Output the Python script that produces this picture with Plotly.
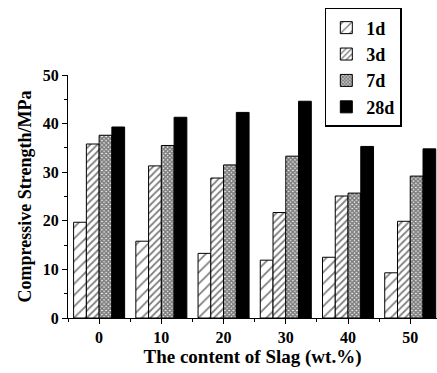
import plotly.graph_objects as go

categories = ["0", "10", "20", "30", "40", "50"]
s1d = [19.7, 15.8, 13.3, 11.9, 12.5, 9.3]
s3d = [35.8, 31.3, 28.8, 21.7, 25.1, 19.9]
s7d = [37.6, 35.5, 31.5, 33.3, 25.7, 29.2]
s28d = [39.3, 41.3, 42.3, 44.6, 35.3, 34.8]
series_names = ["1d", "3d", "7d", "28d"]

FONT = "'Liberation Serif', 'Times New Roman', Times, serif"
xpos = list(range(len(categories)))

styles = [
    dict(shape="/", size=8, solidity=0.22, fgcolor="black", bgcolor="white", fillmode="overlay"),
    dict(shape="/", size=5, solidity=0.35, fgcolor="black", bgcolor="white", fillmode="overlay"),
    dict(shape="x", size=3, solidity=0.8, fgcolor="black", bgcolor="white", fillmode="overlay"),
    None,
]

fig = go.Figure()
for name, vals, pat in zip(series_names, [s1d, s3d, s7d, s28d], styles):
    marker = dict(color="white" if pat else "black", line=dict(color="black", width=1))
    if pat:
        marker["pattern"] = pat
    fig.add_trace(go.Bar(x=xpos, y=vals, name=name, marker=marker))

fig.update_layout(
    width=437, height=373,
    margin=dict(l=68, r=0, t=75, b=55),
    paper_bgcolor="white", plot_bgcolor="white",
    barmode="group", bargap=0.18, bargroupgap=0,
    font=dict(family=FONT, size=15, color="black", weight="bold"),
    showlegend=True,
    legend=dict(
        x=0.696, y=1.276, xanchor="left", yanchor="top",
        bordercolor="black", borderwidth=1.5, bgcolor="white",
        font=dict(family=FONT, size=18, color="black", weight="bold"),
        tracegroupgap=0, itemwidth=30,
    ),
    xaxis=dict(
        range=[-0.5, 5.43], tickvals=xpos, ticktext=categories,
        showline=True, linecolor="black", linewidth=1.2, mirror=False,
        ticks="outside", ticklen=5, tickwidth=1, tickcolor="black",
        showgrid=False, zeroline=False,
        minor=dict(tick0=0.5, dtick=1, ticks="outside", ticklen=3, tickcolor="black", showgrid=False),
        tickfont=dict(family=FONT, size=16, weight="bold"),
        title=dict(text="The content of Slag (wt.%)", standoff=4,
                   font=dict(family=FONT, size=19, weight="bold")),
    ),
    yaxis=dict(
        range=[0, 50], tickvals=[0, 10, 20, 30, 40, 50],
        showline=True, linecolor="black", linewidth=1.2,
        ticks="outside", ticklen=5, tickwidth=1, tickcolor="black",
        showgrid=False, zeroline=False,
        minor=dict(dtick=5, ticks="outside", ticklen=3, tickcolor="black", showgrid=False),
        tickfont=dict(family=FONT, size=16, weight="bold"),
        title=dict(text="Compressive Strength/MPa", standoff=6,
                   font=dict(family=FONT, size=18, weight="bold")),
    ),
)

fig.write_html("out.html")
